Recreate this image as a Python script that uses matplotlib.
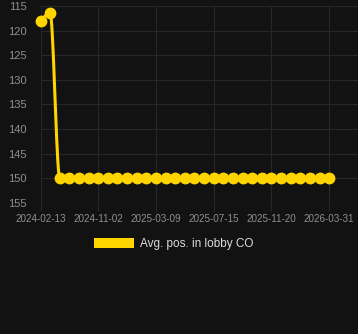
import numpy as np
import matplotlib
matplotlib.use("Agg")
import matplotlib.pyplot as plt
from matplotlib.patches import Patch

plt.rcParams['font.family'] = ['Liberation Sans', 'DejaVu Sans']

# ---- data ----
series_name = "Avg. pos. in lobby CO"
values = [118, 116.4] + [150] * 29
tick_labels = ["2024-02-13", "2024-11-02", "2025-03-09",
               "2025-07-15", "2025-11-20", "2026-03-31"]
tick_step = 6
n_categories = 34
y_ticks = [115, 120, 125, 130, 135, 140, 145, 150, 155]

BG = "#121212"
GRID = "#272727"
YELLOW = "#FFD500"
TICK_COLOR = "#8f8f8f"
LEGEND_TEXT = "#dcdcdc"


def monotone(x, y, num=30):
    x = np.asarray(x, float)
    y = np.asarray(y, float)
    n = len(x)
    d = np.diff(y) / np.diff(x)
    m = np.zeros(n)
    m[0] = d[0]
    m[-1] = d[-1]
    for i in range(1, n - 1):
        if d[i - 1] * d[i] <= 0:
            m[i] = 0
        else:
            m[i] = (d[i - 1] + d[i]) / 2
    for i in range(n - 1):
        if d[i] == 0:
            m[i] = m[i + 1] = 0
            continue
        a = m[i] / d[i]
        b = m[i + 1] / d[i]
        s = a * a + b * b
        if s > 9:
            t = 3 / np.sqrt(s)
            m[i] = t * a * d[i]
            m[i + 1] = t * b * d[i]
    xs, ys = [], []
    for i in range(n - 1):
        h = x[i + 1] - x[i]
        t = np.linspace(0, 1, num)
        h00 = 2 * t**3 - 3 * t**2 + 1
        h10 = t**3 - 2 * t**2 + t
        h01 = -2 * t**3 + 3 * t**2
        h11 = t**3 - t**2
        xs.append(x[i] + t * h)
        ys.append(h00 * y[i] + h10 * h * m[i] + h01 * y[i + 1] + h11 * h * m[i + 1])
    return np.concatenate(xs), np.concatenate(ys)


fig = plt.figure(figsize=(3.58, 3.34), dpi=100, facecolor=BG)
ax = fig.add_axes([40.5 / 358, (334 - 202.7) / 334, (358 - 40.5) / 358, (202.7 - 6) / 334])
ax.set_facecolor(BG)

x = np.arange(len(values))
sx, sy = monotone(x, values)
ax.plot(sx, sy, color=YELLOW, lw=2.2, solid_capstyle='round', zorder=3, clip_on=False)
ax.plot(x, values, 'o', color=YELLOW, ms=7.5, mec=YELLOW, zorder=4, clip_on=False)

ax.set_xlim(0, n_categories - 1)
ax.set_ylim(155, 115)

ticks = list(range(0, len(values), tick_step))
ax.set_xticks(ticks)
ax.set_xticklabels(tick_labels)
ax.set_yticks(y_ticks)

ax.grid(True, color=GRID, lw=0.8)
ax.set_axisbelow(True)
for s in ax.spines.values():
    s.set_visible(False)
ax.tick_params(axis='x', colors=GRID, length=5.5, width=0.8, labelcolor=TICK_COLOR,
               labelsize=7.1, pad=2.5)
ax.tick_params(axis='y', length=0, labelcolor=TICK_COLOR, labelsize=8, pad=10)

handle = Patch(facecolor=YELLOW, edgecolor='none')
leg = fig.legend([handle], [series_name], loc='center', bbox_to_anchor=(174 / 358, (334 - 244) / 334),
                 frameon=False, fontsize=8.5, handlelength=3.4, handleheight=1.0,
                 handletextpad=0.5, borderpad=0)
for t in leg.get_texts():
    t.set_color(LEGEND_TEXT)

fig.savefig("out.png", dpi=100, facecolor=BG)
